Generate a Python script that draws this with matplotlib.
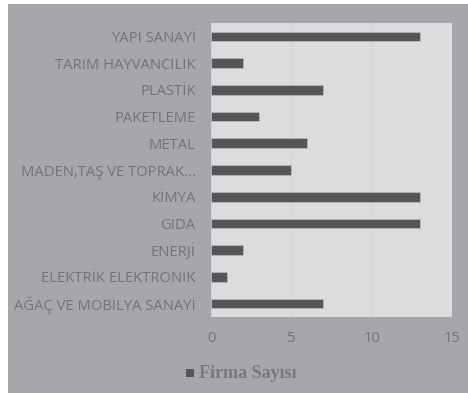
import matplotlib.pyplot as plt
from matplotlib.patches import Rectangle

categories = ["AĞAÇ VE MOBİLYA SANAYİ", "ELEKTRİK ELEKTRONİK", "ENERJİ", "GIDA",
              "KİMYA", "MADEN,TAŞ VE TOPRAK...", "METAL", "PAKETLEME",
              "PLASTİK", "TARIM HAYVANCILIK", "YAPI SANAYİ"]
firma_sayisi = [7, 1, 2, 13, 13, 5, 6, 3, 7, 2, 13]
x_ticks = [0, 5, 10, 15]
series_name = "Firma Sayısı"

W, H = 468, 393
fig = plt.figure(figsize=(W / 100, H / 100), dpi=100, facecolor="white")

# gray card behind the chart
bg = fig.add_axes([8 / W, 0, 1 - 8 / W, 1 - 4 / H], zorder=0)
bg.set_facecolor("#a6a7aa")
bg.set_xticks([])
bg.set_yticks([])
for s in bg.spines.values():
    s.set_visible(False)

ax = fig.add_axes([211 / W, 1 - 317 / H, (452 - 211) / W, (317 - 23) / H], zorder=1)
ax.set_facecolor("#dcdcde")
for s in ax.spines.values():
    s.set_visible(False)

ax.barh(range(len(categories)), firma_sayisi, height=0.36, color="#555658",
        edgecolor="#b8b9bb", linewidth=0.6, zorder=3)
ax.set_xlim(0, 15)
ax.set_ylim(-0.5, len(categories) - 0.5)
ax.set_xticks(x_ticks)
ax.set_yticks(range(len(categories)))
ax.set_yticklabels(categories)
ax.grid(axis="x", color="#d6d6d8", linewidth=0.8, zorder=0)
ax.tick_params(length=0, labelsize=10.6)
for lab in ax.get_yticklabels() + ax.get_xticklabels():
    lab.set_fontfamily("Open Sans")
    lab.set_color("#727376")
ax.tick_params(axis="y", pad=11)
ax.tick_params(axis="x", pad=10)

# legend below the axis
bg.add_patch(Rectangle((186 / W, 1 - 377 / H), 8 / W, 8 / H,
                       transform=fig.transFigure, facecolor="#555658",
                       edgecolor="none", zorder=2))
fig.text(199 / W, 1 - 373 / H, series_name, fontsize=13, fontweight="bold",
         family="Liberation Serif", color="#77787b", va="center", ha="left",
         zorder=5)

fig.savefig("out.png", dpi=100, facecolor="white")
